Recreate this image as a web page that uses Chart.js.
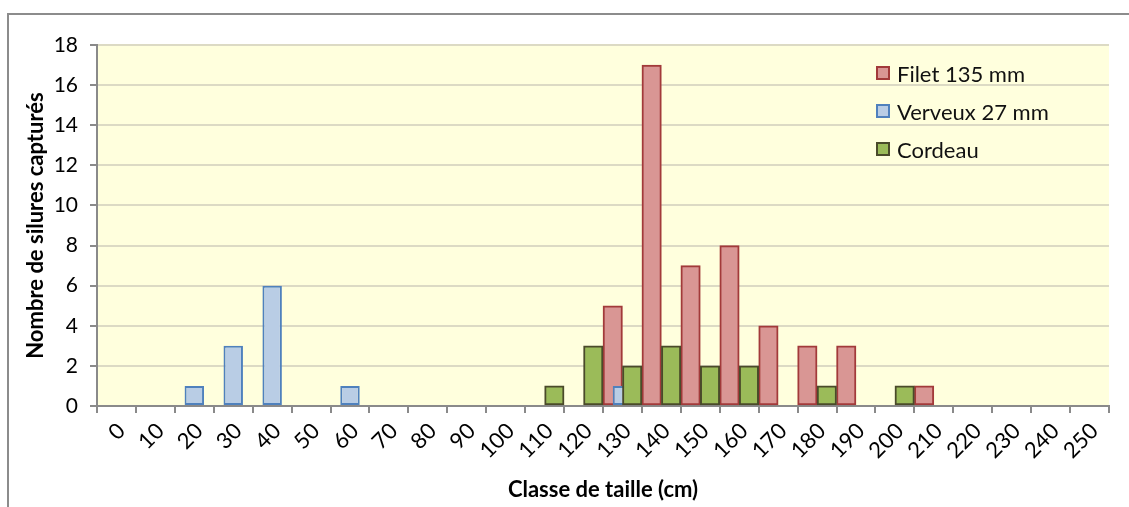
<!DOCTYPE html>
<html>
<head>
<meta charset="utf-8">
<script src="https://cdn.jsdelivr.net/npm/chart.js@4.4.1/dist/chart.umd.min.js"></script>
<style>
    html, body { margin: 0; padding: 0; background: #fff; }
    #wrap { position: relative; width: 1129px; height: 507px; overflow: hidden; }
    #frame { position: absolute; left: 7px; top: 13px; right: -4px; bottom: -4px;
             border-left: 2px solid #8c8c8c; border-top: 2px solid #8c8c8c; }
    #chart { position: absolute; left: 0; top: 0; }
    #legend { position: absolute; left: 876px; top: 54px; font-family: 'Lato', sans-serif;
              font-size: 22px; color: #111; }
    #legend .item { height: 38px; display: flex; align-items: center; }
    #legend .box { width: 10px; height: 10px; border: 2px solid; margin-right: 7px; }
</style>
</head>
<body>
<div id="wrap">
    <div id="frame"></div>
    <canvas id="chart" width="1129" height="507"></canvas>
    <div id="legend"></div>
</div>
<script>
// Size classes (cm)
const classes = ['0', '10', '20', '30', '40', '50', '60', '70', '80', '90', '100', '110', '120',
                 '130', '140', '150', '160', '170', '180', '190', '200', '210', '220', '230', '240', '250'];

// Catch counts per class
const filet135   = [0, 0, 0, 0, 0, 0, 0, 0, 0, 0, 0, 0, 0, 5, 17, 7, 8, 4, 3, 3, 0, 1, 0, 0, 0, 0];
const verveux27  = [0, 0, 1, 3, 6, 0, 1, 0, 0, 0, 0, 0, 0, 1, 0, 0, 0, 0, 0, 0, 0, 0, 0, 0, 0, 0];
const cordeau    = [0, 0, 0, 0, 0, 0, 0, 0, 0, 0, 0, 1, 3, 2, 3, 2, 2, 0, 1, 0, 1, 0, 0, 0, 0, 0];

const seriesNames = ['Filet 135 mm', 'Verveux 27 mm', 'Cordeau'];

Chart.defaults.font.family = "'Lato', sans-serif";
Chart.defaults.color = '#000';

const axisGray = '#8a8a8a';
const gridTan = '#dcdac4';

// yellow plot background
const plotBg = {
    id: 'plotBg',
    beforeDraw(chart) {
        const { ctx, chartArea: a } = chart;
        ctx.save();
        ctx.fillStyle = '#ffffdd';
        ctx.fillRect(a.left, a.top, a.right - a.left, a.bottom - a.top);
        ctx.restore();
    }
};

// draw red, then blue, then green on top (like the source)
const drawOrder = {
    id: 'drawOrder',
    beforeDatasetsDraw(chart) {
        [0, 1, 2].forEach(i => chart.getDatasetMeta(i).controller.draw());
        return false;
    }
};

const ctx = document.getElementById('chart').getContext('2d');

new Chart(ctx, {
    type: 'bar',
    data: {
        labels: classes,
        datasets: [
            {
                label: seriesNames[0],
                data: filet135,
                backgroundColor: '#d99694',
                borderColor: '#a23a3a',
                borderWidth: 2,
                borderSkipped: false,
                categoryPercentage: 1,
                barPercentage: 1
            },
            {
                // centred in the class, not grouped with the other two
                label: seriesNames[1],
                data: verveux27,
                grouped: false,
                backgroundColor: '#b9cde5',
                borderColor: '#4f81bd',
                borderWidth: 2,
                borderSkipped: false,
                categoryPercentage: 0.5,
                barPercentage: 1
            },
            {
                label: seriesNames[2],
                data: cordeau,
                backgroundColor: '#9bbb59',
                borderColor: '#4a4a2a',
                borderWidth: 2,
                borderSkipped: false,
                categoryPercentage: 1,
                barPercentage: 1
            }
        ]
    },
    options: {
        responsive: false,
        animation: false,
        layout: { padding: { top: 45, right: 20, left: 0, bottom: 0 } },
        plugins: {
            legend: { display: false },
            tooltip: { enabled: false }
        },
        scales: {
            x: {
                type: 'category',
                offset: true,
                afterFit: s => { s.height = 101; },
                grid: { display: true, drawOnChartArea: false, offset: true,
                        color: axisGray, tickColor: axisGray, tickLength: 7, lineWidth: 2 },
                border: { display: true, color: axisGray, width: 2 },
                ticks: { autoSkip: false, minRotation: 45, maxRotation: 45, padding: 5,
                         labelOffset: 5, font: { size: 22 } },
                title: { display: true, text: 'Classe de taille (cm)',
                         font: { size: 22, weight: 'bold' }, padding: { top: 0, bottom: 4 } }
            },
            y: {
                min: 0,
                max: 18,
                afterFit: s => { s.width = 97; },
                ticks: { stepSize: 2, padding: 12, font: { size: 21 } },
                grid: { color: gridTan, lineWidth: 2, tickColor: axisGray, tickLength: 7 },
                border: { display: true, color: axisGray, width: 2 },
                title: { display: true, text: 'Nombre de silures capturés',
                         font: { size: 22, weight: 'bold' }, padding: { top: 23, bottom: 0 } }
            }
        }
    },
    plugins: [plotBg, drawOrder]
});

// legend inside the plot, top right
const legendColors = [['#d99694', '#a23a3a'], ['#b9cde5', '#4f81bd'], ['#9bbb59', '#4a4a2a']];
const legendEl = document.getElementById('legend');
seriesNames.forEach((name, i) => {
    const item = document.createElement('div');
    item.className = 'item';
    item.innerHTML = `<span class="box" style="background:${legendColors[i][0]};border-color:${legendColors[i][1]}"></span><span>${name}</span>`;
    legendEl.appendChild(item);
});
</script>
</body>
</html>
